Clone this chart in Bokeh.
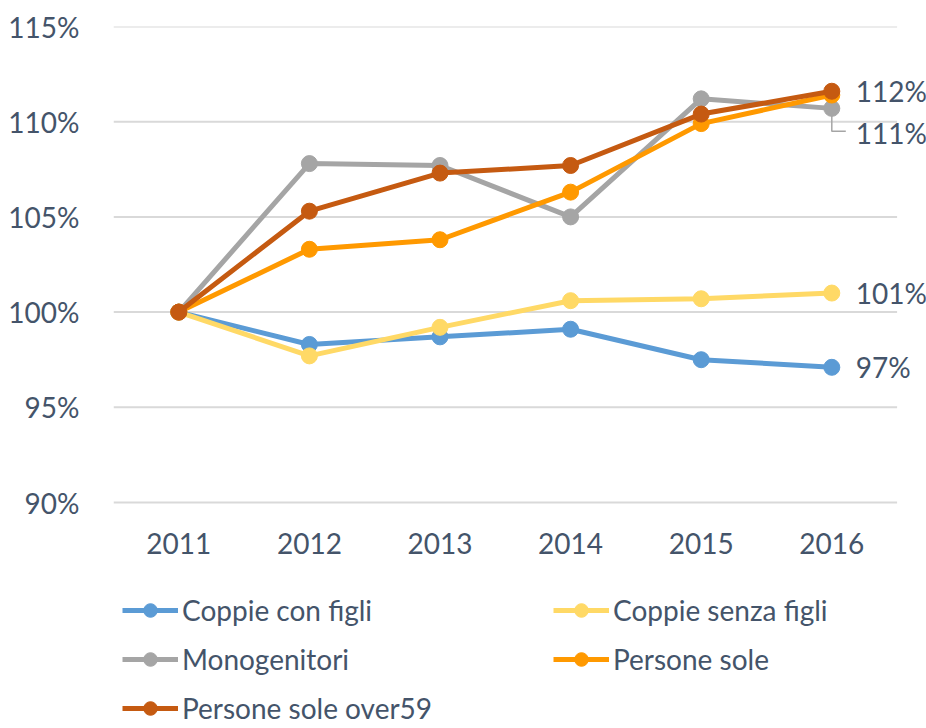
from bokeh.plotting import figure
from bokeh.models import Range1d, FixedTicker, Legend, LegendItem
from bokeh.core.properties import value
from bokeh.embed import file_html
from bokeh.resources import INLINE

years = ["2011", "2012", "2013", "2014", "2015", "2016"]
coppie_con_figli = [100.0, 98.3, 98.7, 99.1, 97.5, 97.1]
coppie_senza_figli = [100.0, 97.7, 99.2, 100.6, 100.7, 101.0]
monogenitori = [100.0, 107.8, 107.7, 105.0, 111.2, 110.7]
persone_sole = [100.0, 103.3, 103.8, 106.3, 109.9, 111.4]
persone_sole_over59 = [100.0, 105.3, 107.3, 107.7, 110.4, 111.6]
y_ticks = [90, 95, 100, 105, 110, 115]

series = [
    ("Coppie con figli", coppie_con_figli, "#5B9BD5"),
    ("Coppie senza figli", coppie_senza_figli, "#FFD966"),
    ("Monogenitori", monogenitori, "#A5A5A5"),
    ("Persone sole", persone_sole, "#FF9900"),
    ("Persone sole over59", persone_sole_over59, "#C55A11"),
]

FONT = "Lato"
TXT = "#44546A"
FS = "28px"

W, H = 926, 728
LEFT, TOP = 113, 26
frame_h = H - TOP
px_per_unit_y = 476 / 25.0
px_per_unit_x = 130.6
y_start = y_ticks[-1] - frame_h / px_per_unit_y
x_end = -0.5 + (W - LEFT) / px_per_unit_x

xs = list(range(len(years)))
p = figure(width=W, height=H, output_backend="svg", toolbar_location=None,
           x_range=Range1d(-0.5, x_end), y_range=Range1d(y_start, y_ticks[-1]),
           min_border_left=LEFT, min_border_right=0, min_border_top=TOP,
           min_border_bottom=0)
p.outline_line_color = None
p.xgrid.visible = False
p.ygrid.visible = False

# gridlines
p.segment(x0=[-0.5] * len(y_ticks), x1=[len(years) - 0.5] * len(y_ticks),
          y0=y_ticks, y1=y_ticks, line_color="#D9D9D9", line_width=2)

for ax in (p.xaxis, p.yaxis):
    ax.axis_line_color = None
    ax.major_tick_line_color = None
    ax.minor_tick_line_color = None
    ax.major_label_text_font = FONT
    ax.major_label_text_font_size = FS
    ax.major_label_text_color = TXT

p.xaxis.fixed_location = y_ticks[0]
p.xaxis.ticker = FixedTicker(ticks=xs)
p.xaxis.major_label_overrides = {i: y for i, y in enumerate(years)}
p.xaxis.major_label_standoff = 24
p.yaxis.ticker = FixedTicker(ticks=y_ticks)
p.yaxis.major_label_overrides = {t: f"{t}%" for t in y_ticks}
p.yaxis.major_label_standoff = 28

# leader line for Monogenitori label
last = len(years) - 1
mono_end = monogenitori[last]
lead_y = mono_end - 23 / px_per_unit_y
p.line(x=[last, last, last + 14 / px_per_unit_x], y=[mono_end, lead_y, lead_y],
       line_color="#A5A5A5", line_width=1.5)

items = {}
for name, vals, col in series:
    lr = p.line(xs, vals, line_color=col, line_width=5)
    sr = p.scatter(xs, vals, size=16, fill_color=col, line_color=col)
    items[name] = LegendItem(label=name, renderers=[lr, sr])

# data labels
lab_x = [last, last, last, last]
lab_y = [persone_sole_over59[last], monogenitori[last], coppie_senza_figli[last], coppie_con_figli[last]]
lab_t = [f"{round(v)}%" for v in lab_y]
lab_off = [0, 25, 0, 0]
p.text(x=lab_x, y=lab_y, text=lab_t, x_offset=24, y_offset=lab_off,
       text_baseline="middle", text_align="left", text_font=value(FONT),
       text_font_size=FS, text_color=TXT)

def make_legend(names, loc):
    lg = Legend(items=[items[n] for n in names], location=loc, orientation="vertical")
    lg.glyph_width = 56
    lg.glyph_height = 34
    lg.label_height = 34
    lg.label_standoff = 4
    lg.spacing = 15
    lg.padding = 0
    lg.margin = 0
    lg.border_line_color = None
    lg.background_fill_alpha = 0
    lg.label_text_font = FONT
    lg.label_text_font_size = FS
    lg.label_text_color = TXT
    return lg

p.add_layout(make_legend(["Coppie con figli", "Monogenitori", "Persone sole over59"], (9, 3)))
p.add_layout(make_legend(["Coppie senza figli", "Persone sole"], (440, 52)))

open("out.html", "w").write(file_html(p, INLINE))
